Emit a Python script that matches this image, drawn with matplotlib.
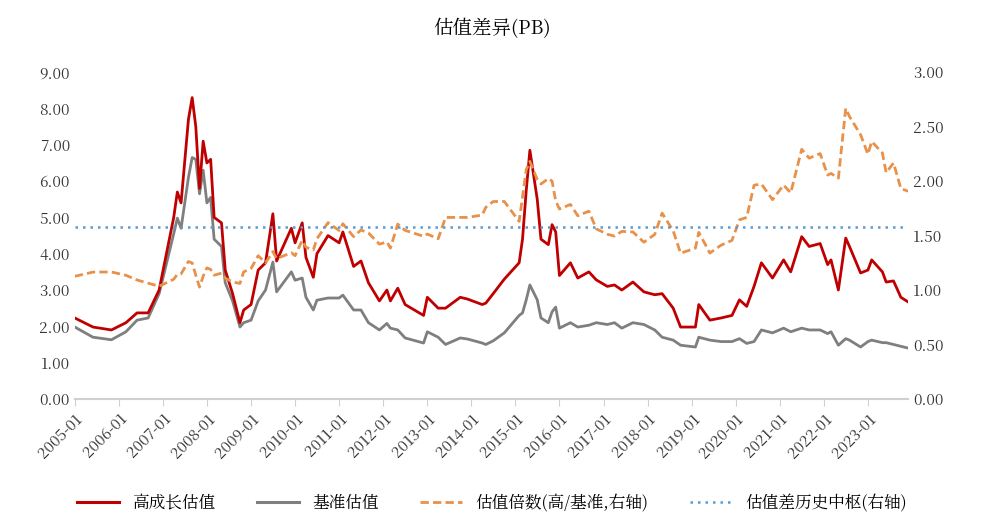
import numpy as np
import pandas as pd
import matplotlib.pyplot as plt
from matplotlib import font_manager as fm
from matplotlib.lines import Line2D

# pick whatever CJK family matplotlib actually knows about
cjk = [f.name for f in fm.fontManager.ttflist if "CJK" in f.name]
for p in fm.findSystemFonts():
    if "CJK" in p and not cjk:
        try:
            fm.fontManager.addfont(p)
            cjk = [fm.FontProperties(fname=p).get_name()]
        except Exception:
            pass
prefer = [n for n in cjk if "SC" in n] or cjk
plt.rcParams["font.family"] = "sans-serif"
plt.rcParams["font.sans-serif"] = (prefer[:1] if prefer else []) + ["DejaVu Sans"]

# month offsets from 2005-01
MONTHS = [0, 5, 10, 14, 17, 20, 23, 27, 28, 29, 31, 32, 33, 34, 35, 36, 37, 38, 40, 41,
          43, 45, 46, 48, 50, 52, 54, 55, 59, 60, 62, 63, 65, 66, 69, 72, 73, 76, 78, 80,
          83, 85, 86, 88, 90, 95, 96, 99, 101, 105, 107, 111, 112, 114, 117, 121, 122, 123, 124, 126,
          127, 129, 130, 131, 132, 135, 137, 140, 142, 145, 147, 149, 152, 155, 158, 160, 163, 165, 169, 170,
          173, 176, 179, 181, 183, 185, 187, 190, 193, 195, 198, 200, 203, 205, 206, 208, 210, 211, 214, 216,
          217, 220, 221, 223, 225, 227]
HIGH_GROWTH = [2.23, 1.98, 1.90, 2.10, 2.37, 2.37, 3.00, 5.00, 5.70, 5.40, 7.70, 8.30, 7.50, 5.80, 7.10, 6.50, 6.60, 5.00, 4.85, 3.55,
               2.90, 2.10, 2.45, 2.60, 3.55, 3.75, 5.10, 3.80, 4.70, 4.30, 4.85, 3.90, 3.35, 4.00, 4.50, 4.30, 4.60, 3.65, 3.80, 3.20,
               2.70, 3.00, 2.70, 3.05, 2.60, 2.30, 2.80, 2.50, 2.50, 2.80, 2.75, 2.60, 2.64, 2.90, 3.30, 3.75, 4.40, 5.75, 6.85, 5.50,
               4.40, 4.25, 4.80, 4.60, 3.40, 3.75, 3.33, 3.50, 3.28, 3.10, 3.14, 3.00, 3.22, 2.95, 2.87, 2.90, 2.50, 1.98, 1.98, 2.60,
               2.17, 2.23, 2.30, 2.73, 2.55, 3.10, 3.75, 3.33, 3.83, 3.50, 4.47, 4.20, 4.28, 3.70, 3.83, 3.00, 4.43, 4.20, 3.47, 3.55,
               3.83, 3.50, 3.22, 3.25, 2.80, 2.67]
BENCHMARK = [1.98, 1.70, 1.63, 1.85, 2.17, 2.23, 2.90, 4.55, 4.98, 4.70, 6.10, 6.65, 6.60, 5.65, 6.30, 5.40, 5.55, 4.40, 4.20, 3.20,
             2.70, 1.98, 2.10, 2.17, 2.70, 3.00, 3.77, 2.95, 3.50, 3.27, 3.33, 2.80, 2.45, 2.72, 2.78, 2.78, 2.86, 2.45, 2.45, 2.10,
             1.90, 2.08, 1.95, 1.90, 1.68, 1.54, 1.85, 1.70, 1.50, 1.68, 1.65, 1.54, 1.50, 1.60, 1.82, 2.30, 2.37, 2.73, 3.14, 2.73,
             2.23, 2.10, 2.40, 2.53, 1.95, 2.10, 1.98, 2.03, 2.10, 2.05, 2.10, 1.95, 2.10, 2.05, 1.90, 1.70, 1.62, 1.48, 1.43, 1.70,
             1.62, 1.58, 1.58, 1.66, 1.53, 1.58, 1.90, 1.82, 1.95, 1.85, 1.95, 1.90, 1.90, 1.80, 1.85, 1.48, 1.66, 1.62, 1.43, 1.58,
             1.62, 1.55, 1.55, 1.50, 1.45, 1.40]
HIST_CENTER = 1.58

RED = "#C00000"
GREY = "#7F7F7F"
ORANGE = "#E8914A"
BLUE = "#5B9BD5"


def main() -> None:
    dates = [pd.Timestamp(2005 + m // 12, m % 12 + 1, 1) for m in MONTHS]
    high = np.array(HIGH_GROWTH)
    base = np.array(BENCHMARK)
    ratio = high / base

    fig = plt.figure(figsize=(9.84, 5.27), dpi=100)
    ax = fig.add_axes([0.076, 0.243, 0.847, 0.62])
    ax2 = ax.twinx()

    ax.plot(dates, high, color=RED, lw=2.0, zorder=3)
    ax.plot(dates, base, color=GREY, lw=2.0, zorder=2)
    ax2.plot(dates, ratio, color=ORANGE, lw=2, ls=(0, (3, 1.5)))
    ax2.axhline(HIST_CENTER, color=BLUE, lw=1.8, ls=(0, (1, 2)))

    ax.set_ylim(0, 9)
    ax2.set_ylim(0, 3)
    ax.set_yticks(np.arange(0, 10, 1))
    ax2.set_yticks(np.arange(0, 3.01, 0.5))
    ax.set_yticklabels([f"{v:.2f}" for v in np.arange(0, 10, 1)], fontsize=11, color="#333333")
    ax2.set_yticklabels([f"{v:.2f}" for v in np.arange(0, 3.01, 0.5)], fontsize=11, color="#333333")

    ticks = [pd.Timestamp(y, 1, 1) for y in range(2005, 2024)]
    ax.set_xticks(ticks)
    ax.set_xticklabels([t.strftime("%Y-%m") for t in ticks], rotation=45, ha="right",
                       rotation_mode="anchor", fontsize=11, color="#333333")
    ax.set_xlim(pd.Timestamp(2005, 1, 1), pd.Timestamp(2023, 12, 1))

    for a in (ax, ax2):
        for s in ("top", "left", "right"):
            a.spines[s].set_visible(False)
        a.tick_params(axis="y", length=0)
    ax.spines["bottom"].set_color("#D0D0D0")
    ax.spines["bottom"].set_linewidth(1.5)
    ax2.spines["bottom"].set_visible(False)
    ax.tick_params(axis="x", color="#D0D0D0", length=5)

    fig.suptitle("估值差异(PB)", y=0.965, fontsize=14)

    handles = [
        Line2D([], [], color=RED, lw=2.2),
        Line2D([], [], color=GREY, lw=2.2),
        Line2D([], [], color=ORANGE, lw=2, ls=(0, (3, 1.5))),
        Line2D([], [], color=BLUE, lw=1.8, ls=(0, (1, 2))),
    ]
    labels = ["高成长估值", "基准估值", "估值倍数(高/基准,右轴)", "估值差历史中枢(右轴)"]
    fig.legend(handles, labels, loc="lower center", bbox_to_anchor=(0.5, 0.0), ncol=4,
               frameon=False, fontsize=12, handlelength=2.5, columnspacing=2.5)

    fig.savefig("out.png", dpi=100)
    plt.close(fig)


if __name__ == "__main__":
    main()
